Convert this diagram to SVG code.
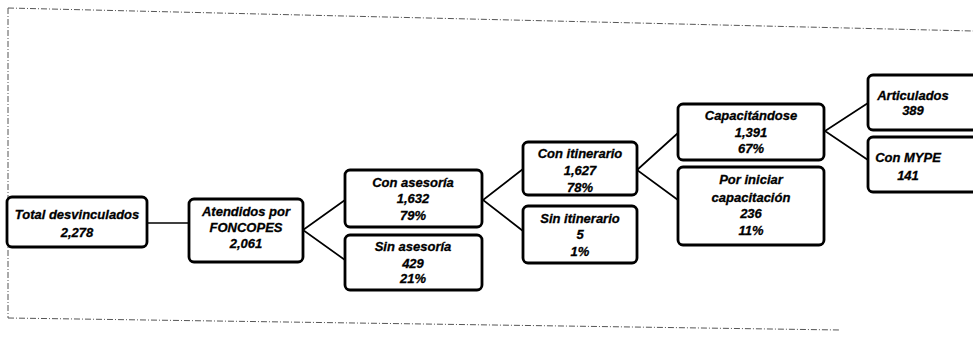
<svg xmlns="http://www.w3.org/2000/svg" width="973" height="349" viewBox="0 0 973 349">
<style>
.box{fill:#fff;stroke:#000;stroke-width:2.8}
.t{font-family:"Liberation Sans",Arial,sans-serif;font-weight:bold;font-style:italic;font-size:13px;fill:#000;text-anchor:middle;stroke:#000;stroke-width:0.3}
.c{stroke:#000;stroke-width:1.7;fill:none}
.frame{stroke:#555;stroke-width:1;fill:none;stroke-dasharray:6 2 1 2}
</style>
<rect width="973" height="349" fill="#fff"/>
<g id="frame">
<path class="frame" d="M8,8 L973,31"/>
<path class="frame" d="M8,8 L8,318"/>
<path class="frame" d="M8,318 L840,330"/>
</g>
<g id="connectors">
<line class="c" x1="147" y1="223" x2="189" y2="223"/>
<polyline class="c" points="345,200 303,230 345,260"/>
<polyline class="c" points="523,169 483,200 523,231"/>
<polyline class="c" points="678,133 637,170 678,200"/>
<polyline class="c" points="868,103 825,131 868,160"/>
</g>
<g id="n-total">
<rect class="box" x="7" y="197" width="140" height="50" rx="5"/>
<text class="t" x="77" y="219">Total desvinculados</text>
<text class="t" x="77" y="237">2,278</text>
</g>
<g id="n-atendidos">
<rect class="box" x="189" y="199" width="114" height="63" rx="5"/>
<text class="t" x="246" y="216">Atendidos por</text>
<text class="t" x="246" y="232">FONCOPES</text>
<text class="t" x="246" y="248">2,061</text>
</g>
<g id="n-con-asesoria">
<rect class="box" x="345" y="170" width="137" height="57" rx="5"/>
<text class="t" x="413" y="187">Con asesoría</text>
<text class="t" x="413" y="203">1,632</text>
<text class="t" x="413" y="220">79%</text>
</g>
<g id="n-sin-asesoria">
<rect class="box" x="345" y="235" width="137" height="55" rx="5"/>
<text class="t" x="413" y="251">Sin asesoría</text>
<text class="t" x="413" y="268">429</text>
<text class="t" x="413" y="283">21%</text>
</g>
<g id="n-con-itinerario">
<rect class="box" x="523" y="142" width="114" height="53" rx="5"/>
<text class="t" x="580" y="158">Con itinerario</text>
<text class="t" x="580" y="175">1,627</text>
<text class="t" x="580" y="192">78%</text>
</g>
<g id="n-sin-itinerario">
<rect class="box" x="523" y="206" width="114" height="57" rx="5"/>
<text class="t" x="580" y="223">Sin itinerario</text>
<text class="t" x="580" y="239">5</text>
<text class="t" x="580" y="256">1%</text>
</g>
<g id="n-capacitandose">
<rect class="box" x="678" y="104" width="146" height="56" rx="5"/>
<text class="t" x="751" y="120">Capacitándose</text>
<text class="t" x="751" y="137">1,391</text>
<text class="t" x="751" y="153">67%</text>
</g>
<g id="n-por-iniciar">
<rect class="box" x="678" y="167" width="146" height="78" rx="5"/>
<text class="t" x="751" y="184">Por iniciar</text>
<text class="t" x="751" y="202">capacitación</text>
<text class="t" x="751" y="218">236</text>
<text class="t" x="751" y="235">11%</text>
</g>
<g id="n-articulados">
<rect class="box" x="868" y="75" width="120" height="55" rx="5"/>
<text class="t" x="913" y="100">Articulados</text>
<text class="t" x="913" y="115">389</text>
</g>
<g id="n-con-mype">
<rect class="box" x="868" y="137" width="120" height="55" rx="5"/>
<text class="t" x="908" y="162">Con MYPE</text>
<text class="t" x="908" y="180">141</text>
</g>
</svg>
